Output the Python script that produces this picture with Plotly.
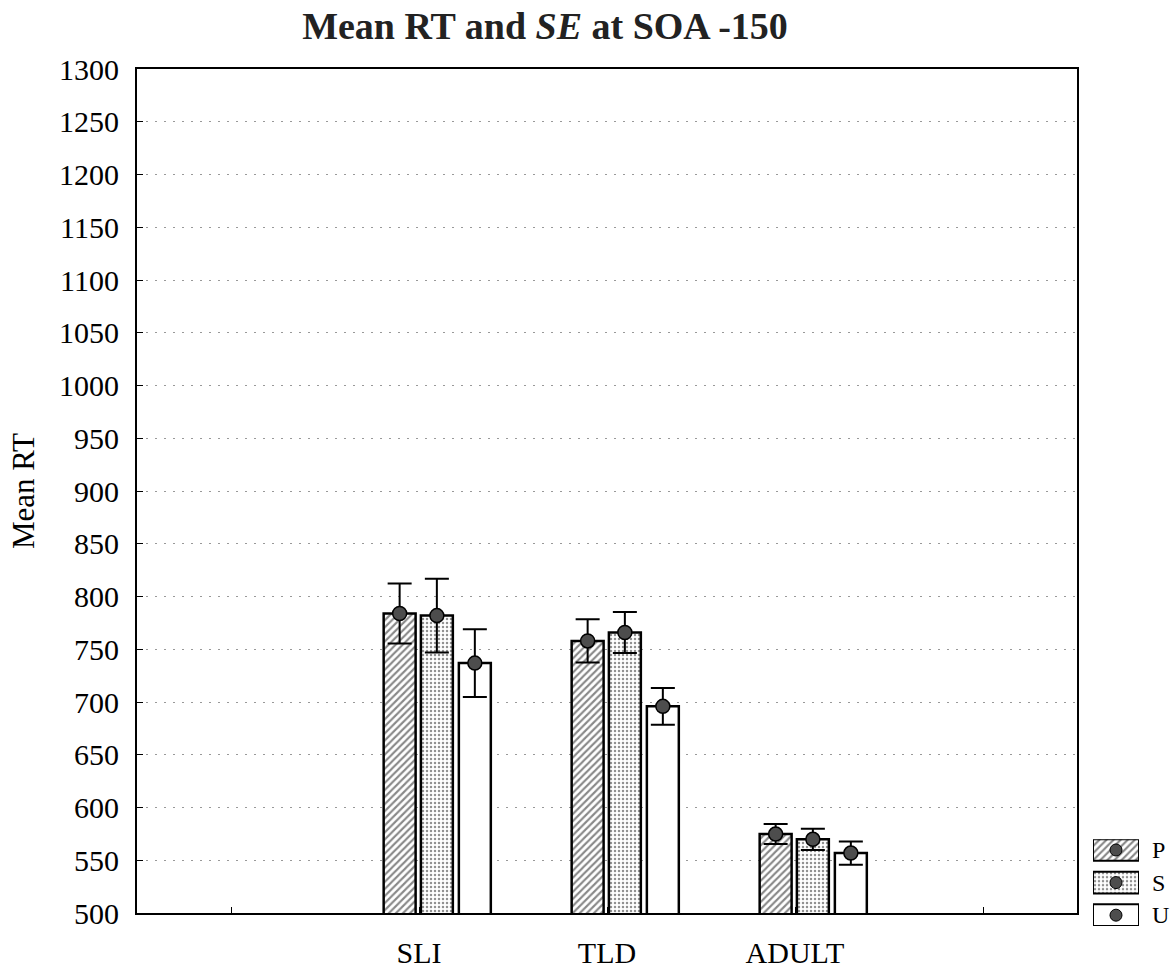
import plotly.graph_objects as go

groups = ["SLI", "TLD", "ADULT"]
conditions = ["P", "S", "U"]
mean_P = [784, 758, 575]
mean_S = [782, 766, 570]
mean_U = [737, 696, 557]
se_P = [28.5, 20.5, 9.5]
se_S = [35, 19.5, 10]
se_U = [32, 17.5, 11]
tick_labels = ["", "SLI", "TLD", "ADULT", ""]

means = {"P": mean_P, "S": mean_S, "U": mean_U}
ses = {"P": se_P, "S": se_S, "U": se_U}

FONT = "Liberation Serif"
offsets = {"P": -0.103, "S": 0.095, "U": 0.297}
bar_w = 0.17
patterns = {
    "P": dict(shape="/", size=5, solidity=0.42, fgcolor="#111", bgcolor="white"),
    "S": dict(shape=".", size=4, solidity=0.3, fgcolor="#222", bgcolor="white"),
    "U": dict(shape="", bgcolor="white"),
}

fig = go.Figure()
for c in conditions:
    xs = [i + 1 + offsets[c] for i in range(len(groups))]
    fig.add_trace(go.Bar(
        x=xs, y=means[c], width=bar_w, base=0,
        marker=dict(color="white", pattern=patterns[c], line=dict(color="black", width=2.5)),
        showlegend=False, name=c,
    ))
for c in conditions:
    xs = [i + 1 + offsets[c] for i in range(len(groups))]
    fig.add_trace(go.Scatter(
        x=xs, y=means[c], mode="markers",
        marker=dict(size=14, color="#4d4d4d", line=dict(color="black", width=1.5)),
        error_y=dict(type="data", array=ses[c], color="black", thickness=2, width=12),
        showlegend=False,
    ))

# legend built on a small side axis
leg_y = {"P": 2, "S": 1, "U": 0}
for c in conditions:
    fig.add_trace(go.Bar(
        x=[1], y=[leg_y[c]], base=0, orientation="h", width=0.667,
        marker=dict(color="white", pattern=patterns[c], line=dict(color="black", width=2)),
        xaxis="x2", yaxis="y2", showlegend=False,
    ))
    fig.add_trace(go.Scatter(
        x=[0.5], y=[leg_y[c]], mode="markers",
        marker=dict(size=12, color="#4d4d4d", line=dict(color="black", width=1)),
        xaxis="x2", yaxis="y2", showlegend=False,
    ))
    fig.add_annotation(x=0.9854, xref="paper", y=leg_y[c], yref="y2", text=c,
                       showarrow=False, xanchor="left",
                       font=dict(family=FONT, size=24, color="black"))

fig.add_annotation(x=-0.1109, xref="paper", y=0.5092, yref="paper", text="Mean RT",
                   textangle=-90, showarrow=False, xanchor="center", yanchor="middle",
                   font=dict(family=FONT, size=31, color="black"))

fig.update_layout(
    width=1170, height=974,
    margin=dict(l=137, r=5, t=69, b=34),
    paper_bgcolor="white", plot_bgcolor="white",
    barmode="overlay",
    title=dict(text="<b>Mean RT and <i>SE</i> at SOA -150</b>", x=545 / 1170, xanchor="center",
               y=1 - 26 / 974, yanchor="middle", font=dict(family=FONT, size=38, color="#222")),
    font=dict(family=FONT, color="black"),
    xaxis=dict(domain=[0, 0.9144], range=[-0.5, 4.5], tickvals=[0, 1, 2, 3, 4], ticktext=tick_labels,
               showgrid=False, zeroline=False, showline=True, linecolor="black", linewidth=2,
               mirror=True, ticks="inside", ticklen=6, tickcolor="black",
               tickfont=dict(family=FONT, size=30, color="black"), ticklabelstandoff=12),
    yaxis=dict(domain=[0.01837, 1], range=[500, 1300], dtick=50, tick0=500,
               showgrid=True, gridcolor="#999", griddash="2px,7px", gridwidth=1,
               zeroline=False, showline=True, linecolor="black", linewidth=2, mirror=True,
               ticks="inside", ticklen=6, tickcolor="black",
               tickfont=dict(family=FONT, size=30, color="black"), ticklabelstandoff=10),
    xaxis2=dict(domain=[0.92996, 0.97471], range=[0, 1], visible=False, anchor="y2"),
    yaxis2=dict(domain=[0.00344, 0.10448], range=[-0.333, 2.333], visible=False, anchor="x2"),
)

fig.write_html("out.html")
